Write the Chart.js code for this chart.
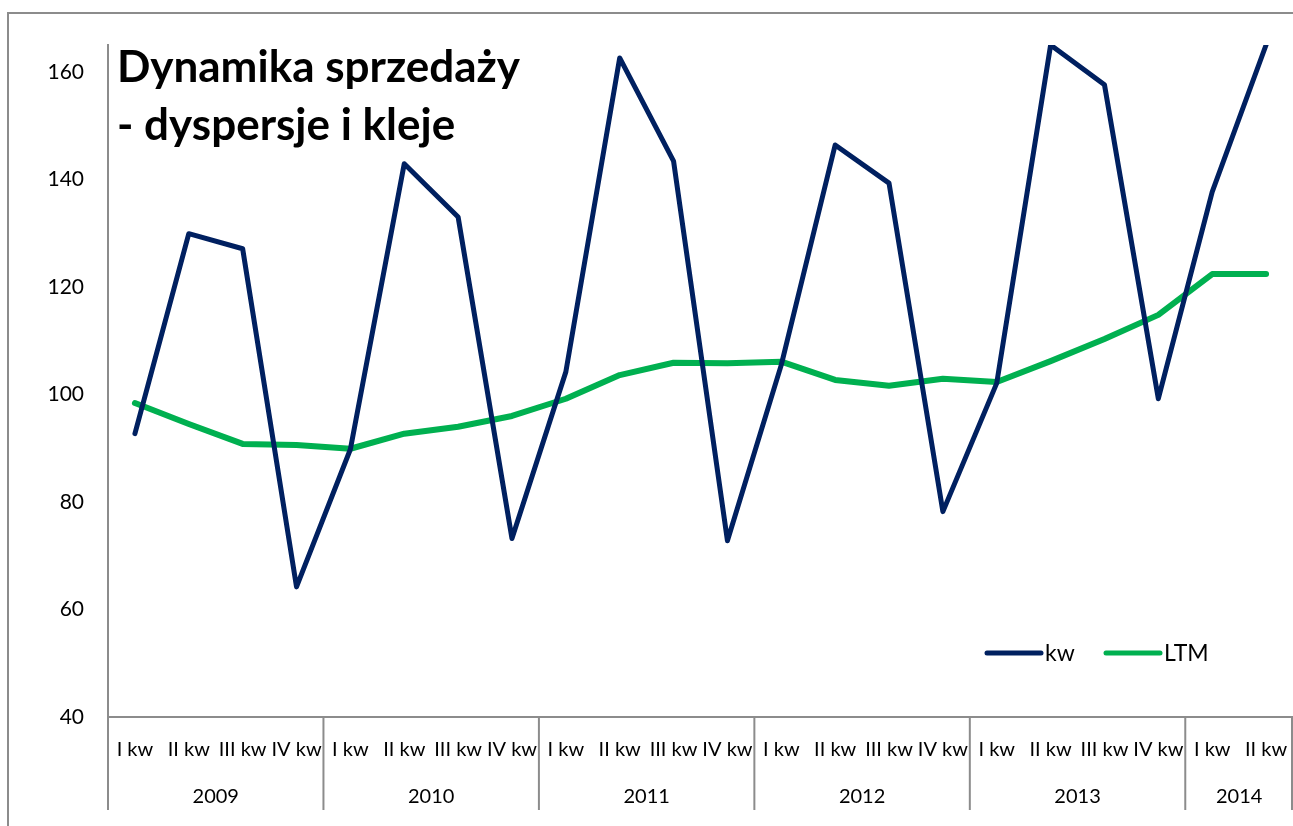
<!DOCTYPE html>
<html>
<head>
<meta charset="utf-8">
<script src="https://cdn.jsdelivr.net/npm/chart.js@4.4.1/dist/chart.umd.min.js"></script>
<style>
  body { margin: 0; background: #fff; }
  #wrap { width: 1293px; height: 826px; position: relative; }
</style>
</head>
<body>
<div id="wrap"><canvas id="myChart"></canvas></div>
<script>
// Dane
const quarters = [
  'I kw', 'II kw', 'III kw', 'IV kw',
  'I kw', 'II kw', 'III kw', 'IV kw',
  'I kw', 'II kw', 'III kw', 'IV kw',
  'I kw', 'II kw', 'III kw', 'IV kw',
  'I kw', 'II kw', 'III kw', 'IV kw',
  'I kw', 'II kw'
];
const years = ['2009', '2010', '2011', '2012', '2013', '2014'];
const quartersPerYear = [4, 4, 4, 4, 4, 2];

const kwValues = [
  92.7, 129.9, 127.1, 64.2,
  89.8, 142.9, 133.0, 73.2,
  104.2, 162.6, 143.4, 72.8,
  105.5, 146.4, 139.3, 78.2,
  102.1, 165.0, 157.6, 99.2,
  137.7, 165.0
];
const ltmValues = [
  98.4, 94.5, 90.8, 90.6,
  89.9, 92.7, 94.0, 96.0,
  99.2, 103.6, 105.9, 105.8,
  106.1, 102.7, 101.6, 102.9,
  102.3, 106.2, 110.3, 114.8,
  122.4, 122.4
];
const yTicks = [40, 60, 80, 100, 120, 140, 160];

const axisGray = '#8c8c8c';
const kwColor = '#002060';
const ltmColor = '#00b050';

// Ramka wykresu
const framePlugin = {
  id: 'frame',
  beforeDraw(chart) {
    const c = chart.ctx;
    c.save();
    c.strokeStyle = axisGray;
    c.lineWidth = 2;
    c.beginPath();
    c.moveTo(8, 826);
    c.lineTo(8, 13);
    c.lineTo(1293, 13);
    c.stroke();
    c.restore();
  }
};

// Lata pod osią X + separatory
const yearsPlugin = {
  id: 'years',
  afterDraw(chart) {
    const c = chart.ctx;
    const x = chart.scales.x;
    const half = (x.getPixelForValue(1) - x.getPixelForValue(0)) / 2;
    const top = chart.chartArea.bottom;
    c.save();
    c.strokeStyle = axisGray;
    c.lineWidth = 2;
    c.fillStyle = '#000';
    c.font = '20px Lato';
    c.textAlign = 'center';
    c.textBaseline = 'middle';
    let idx = 0;
    const edges = [x.getPixelForValue(0) - half];
    years.forEach((y, i) => {
      const first = idx;
      const last = idx + quartersPerYear[i] - 1;
      const left = x.getPixelForValue(first) - half;
      const right = x.getPixelForValue(last) + half;
      edges.push(right);
      c.fillText(y, (left + right) / 2, 797);
      idx = last + 1;
    });
    edges.forEach(e => {
      const ex = Math.min(e, chart.width - 1);
      c.beginPath();
      c.moveTo(ex, top);
      c.lineTo(ex, 810);
      c.stroke();
    });
    c.restore();
  }
};

// Tytuł i legenda
const titlePlugin = {
  id: 'titleInside',
  afterDraw(chart) {
    const c = chart.ctx;
    c.save();
    c.fillStyle = '#000';
    c.font = 'bold 44px Lato';
    c.textAlign = 'left';
    c.textBaseline = 'alphabetic';
    c.fillText('Dynamika sprzedaży', 117, 82);
    c.fillText('- dyspersje i kleje', 117, 140);

    const items = [
      { text: 'kw', color: kwColor, x: 987 },
      { text: 'LTM', color: ltmColor, x: 1106 }
    ];
    c.font = '23px Lato';
    c.textBaseline = 'middle';
    c.lineCap = 'round';
    items.forEach(it => {
      c.strokeStyle = it.color;
      c.lineWidth = 5;
      c.beginPath();
      c.moveTo(it.x, 653);
      c.lineTo(it.x + 54, 653);
      c.stroke();
      c.fillText(it.text, it.x + 58, 654);
    });
    c.restore();
  }
};

const ctx = document.getElementById('myChart').getContext('2d');

const chart = new Chart(ctx, {
  type: 'line',
  data: {
    labels: quarters,
    datasets: [
      {
        label: 'kw',
        data: kwValues,
        borderColor: kwColor,
        backgroundColor: kwColor,
        borderWidth: 5,
        pointRadius: 0,
        tension: 0,
        borderJoinStyle: 'round',
        borderCapStyle: 'round'
      },
      {
        label: 'LTM',
        data: ltmValues,
        borderColor: ltmColor,
        backgroundColor: ltmColor,
        borderWidth: 6,
        pointRadius: 0,
        tension: 0,
        borderJoinStyle: 'round',
        borderCapStyle: 'round'
      }
    ]
  },
  options: {
    responsive: true,
    maintainAspectRatio: false,
    animation: false,
    layout: { padding: { top: 45, left: 0, right: 0, bottom: 0 } },
    plugins: {
      legend: { display: false },
      tooltip: { enabled: false }
    },
    scales: {
      x: {
        offset: true,
        grid: { display: false, drawTicks: false },
        border: { display: true, color: axisGray, width: 2 },
        ticks: {
          autoSkip: false,
          maxRotation: 0,
          minRotation: 0,
          padding: 21,
          color: '#000',
          font: { family: 'Lato', size: 20 }
        },
        afterFit(scale) {
          scale.height = 109;
          scale.paddingLeft = 0;
          scale.paddingRight = 0;
        }
      },
      y: {
        min: 40,
        max: 165,
        grid: { display: false, drawTicks: false },
        border: { display: true, color: axisGray, width: 2 },
        ticks: {
          padding: 24,
          color: '#000',
          font: { family: 'Lato', size: 21 }
        },
        afterBuildTicks(scale) {
          scale.ticks = yTicks.map(v => ({ value: v }));
        },
        afterFit(scale) { scale.width = 108; }
      }
    }
  },
  plugins: [framePlugin, yearsPlugin, titlePlugin]
});
</script>
</body>
</html>
